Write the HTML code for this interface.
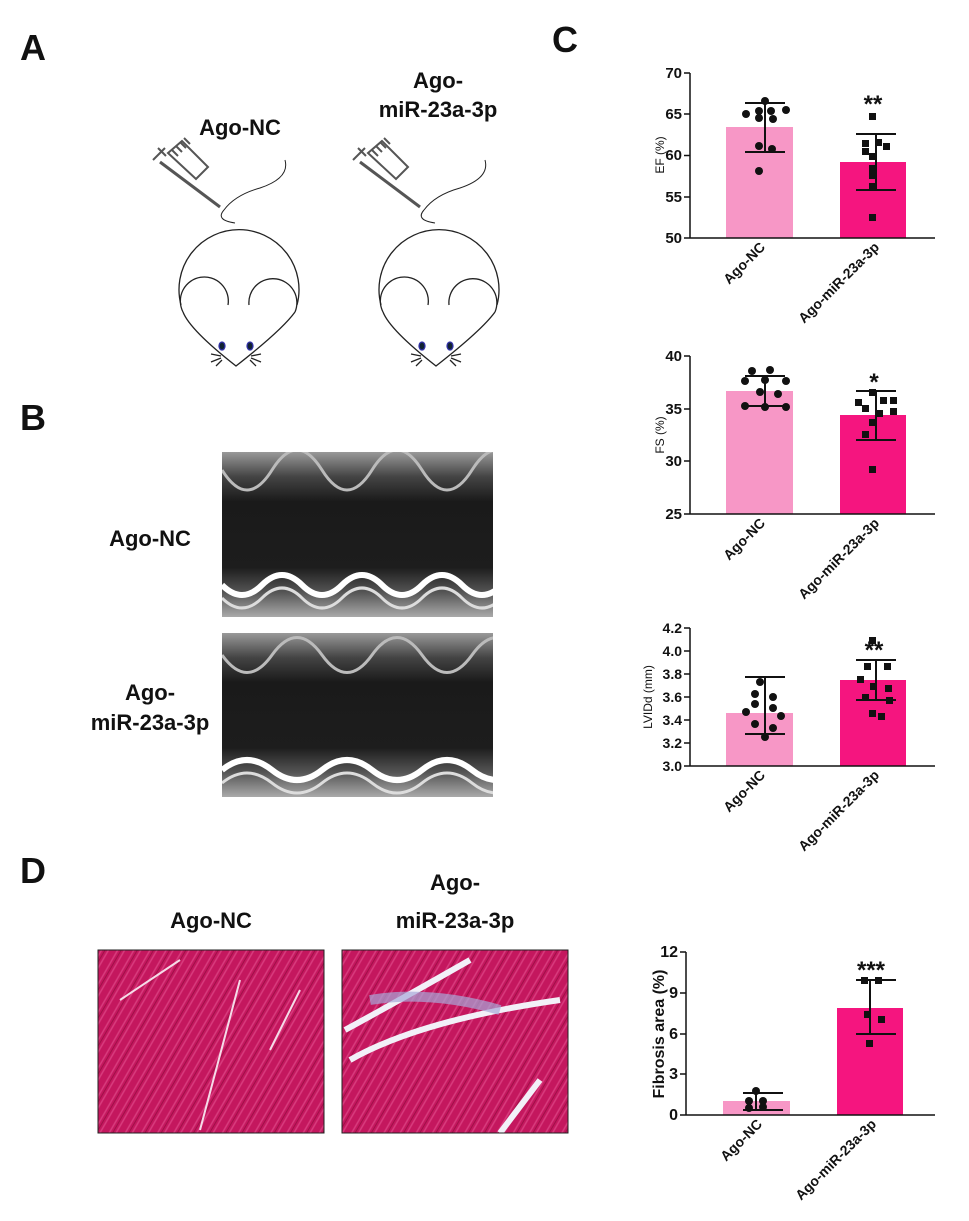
<!DOCTYPE html>
<html><head><meta charset="utf-8"><style>
html,body{margin:0;padding:0;background:#fff;}
svg{display:block;font-family:"Liberation Sans",Arial,sans-serif;}
</style></head><body>
<svg width="969" height="1221" viewBox="0 0 969 1221" xmlns="http://www.w3.org/2000/svg">
<defs>
<g id="mouse" fill="none" stroke="#222" stroke-width="1.3">
  <path d="M181,305 A60,60 0 1 1 297,305"/>
  <path d="M183,312 A24,24 0 1 1 228,305"/>
  <path d="M295,312 A24,24 0 1 0 249,305"/>
  <path d="M183,312 Q190,330 236,366 Q282,330 295,312"/>
  <ellipse cx="222" cy="346" rx="3" ry="4" fill="#123" stroke="#33a"/>
  <ellipse cx="250" cy="346" rx="3" ry="4" fill="#123" stroke="#33a"/>
  <path d="M221,356 l-10,-2 M221,358 l-10,4 M222,360 l-6,6 M251,356 l10,-2 M251,358 l10,4 M250,360 l6,6"/>
  <path d="M224,210 Q215,220 235,223 M224,210 Q235,195 260,188 Q290,178 285,160" stroke-width="1"/>
  <path d="M160,162 L220,207" stroke-width="3" stroke="#555"/>
  <path d="M168,153 l14,-12 l26,26 l-12,12 z" fill="#fff" stroke="#555" stroke-width="2"/>
  <path d="M153,160 l12,-12 M158,148 l8,8 M172,150 l6,6 M176,146 l6,6 M180,142 l6,6 M184,138 l6,6" stroke="#555" stroke-width="2"/>
</g>
<linearGradient id="echo" x1="0" y1="0" x2="0" y2="1">
  <stop offset="0" stop-color="#999"/><stop offset="0.15" stop-color="#444"/><stop offset="0.3" stop-color="#1a1a1a"/><stop offset="0.7" stop-color="#1d1d1d"/><stop offset="0.85" stop-color="#555"/><stop offset="1" stop-color="#aaa"/>
</linearGradient>
<pattern id="tis" width="20" height="14" patternUnits="userSpaceOnUse" patternTransform="rotate(-60)">
  <rect width="20" height="14" fill="#c4175e"/>
  <path d="M0,3 h20 M0,9 h20" stroke="#d93c7e" stroke-width="1.5"/>
  <path d="M0,6 h20" stroke="#a01048" stroke-width="1"/>
</pattern>
<clipPath id="c1"><rect x="222" y="452" width="271" height="165"/></clipPath>
<clipPath id="c2"><rect x="222" y="633" width="271" height="164"/></clipPath>
<clipPath id="c3"><rect x="98" y="950" width="226" height="183"/></clipPath>
<clipPath id="c4"><rect x="342" y="950" width="226" height="183"/></clipPath>
</defs>

<g font-weight="bold" font-size="36" fill="#111">
<text x="20" y="60">A</text><text x="20" y="430">B</text><text x="552" y="52">C</text><text x="20" y="883">D</text>
</g>

<g font-weight="bold" font-size="22" fill="#111" text-anchor="middle">
<text x="240" y="135">Ago-NC</text>
<text x="438" y="88">Ago-</text><text x="438" y="117">miR-23a-3p</text>
<text x="150" y="546">Ago-NC</text>
<text x="150" y="700">Ago-</text><text x="150" y="730">miR-23a-3p</text>
<text x="211" y="928">Ago-NC</text>
<text x="455" y="890">Ago-</text><text x="455" y="928">miR-23a-3p</text>
</g>

<use href="#mouse"/>
<use href="#mouse" transform="translate(200,0)"/>

<g clip-path="url(#c1)">
<rect x="222" y="452" width="271" height="165" fill="url(#echo)"/>
<path d="M222,585 q20,20 40,0 t40,0 t40,0 t40,0 t40,0 t40,0 t40,0" fill="none" stroke="#fff" stroke-width="6"/>
<path d="M222,598 q20,20 40,0 t40,0 t40,0 t40,0 t40,0 t40,0 t40,0" fill="none" stroke="#ddd" stroke-width="3"/>
<path d="M222,470 q25,40 50,0 t50,0 t50,0 t50,0 t50,0 t50,0" fill="none" stroke="#bbb" stroke-width="3"/>
</g>
<g clip-path="url(#c2)">
<rect x="222" y="633" width="271" height="164" fill="url(#echo)"/>
<path d="M222,770 q25,-20 50,0 t50,0 t50,0 t50,0 t50,0 t50,0" fill="none" stroke="#fff" stroke-width="6"/>
<path d="M222,783 q25,-20 50,0 t50,0 t50,0 t50,0 t50,0 t50,0" fill="none" stroke="#ddd" stroke-width="3"/>
<path d="M222,655 q25,35 50,0 t50,0 t50,0 t50,0 t50,0 t50,0" fill="none" stroke="#bbb" stroke-width="3"/>
</g>

<g clip-path="url(#c3)">
<rect x="98" y="950" width="226" height="183" fill="url(#tis)"/>
<path d="M200,1130 L240,980 M120,1000 L180,960 M270,1050 L300,990" stroke="#f5dbe8" stroke-width="2"/>
</g>
<rect x="98" y="950" width="226" height="183" fill="none" stroke="#222"/>
<g clip-path="url(#c4)">
<rect x="342" y="950" width="226" height="183" fill="url(#tis)"/>
<path d="M345,1030 Q400,1000 470,960 M350,1060 Q420,1020 560,1000 M500,1133 L540,1080" stroke="#f2f0f8" stroke-width="6" fill="none"/>
<path d="M370,1000 Q430,990 500,1010" stroke="#a8a8d8" stroke-width="10" fill="none" opacity="0.7"/>
</g>
<rect x="342" y="950" width="226" height="183" fill="none" stroke="#222"/>

<g font-size="15" font-weight="bold" fill="#111">
<!-- EF -->
<rect x="726" y="127" width="67" height="111" fill="#f797c6"/>
<rect x="840" y="162" width="66" height="76" fill="#f5157f"/>
<path d="M690,73 V238 H935 M684,73 h6 M684,114 h6 M684,155.5 h6 M684,197 h6 M684,238 h6" stroke="#111" stroke-width="1.5" fill="none"/>
<g text-anchor="end"><text x="682" y="78">70</text><text x="682" y="119">65</text><text x="682" y="160">60</text><text x="682" y="202">55</text><text x="682" y="243">50</text></g>
<text transform="translate(664,155) rotate(-90)" text-anchor="middle" font-size="12" font-weight="normal">EF (%)</text>
<path d="M745,103 h40 M765,103 V152 M745,152 h40 M856,134 h40 M876,134 V190 M856,190 h40" stroke="#111" stroke-width="2"/>
<g fill="#111"><circle cx="746" cy="114" r="4"/><circle cx="759" cy="111" r="4"/><circle cx="771" cy="111" r="4"/><circle cx="786" cy="110" r="4"/><circle cx="759" cy="118" r="4"/><circle cx="765" cy="101" r="4"/><circle cx="773" cy="119" r="4"/><circle cx="759" cy="146" r="4"/><circle cx="772" cy="149" r="4"/><circle cx="759" cy="171" r="4"/></g>
<g fill="#111"><rect x="869" y="113" width="7" height="7"/><rect x="862" y="140" width="7" height="7"/><rect x="875" y="139" width="7" height="7"/><rect x="883" y="143" width="7" height="7"/><rect x="862" y="148" width="7" height="7"/><rect x="869" y="153" width="7" height="7"/><rect x="869" y="165" width="7" height="7"/><rect x="869" y="172" width="7" height="7"/><rect x="869" y="183" width="7" height="7"/><rect x="869" y="214" width="7" height="7"/></g>
<text x="873" y="112" text-anchor="middle" font-size="24">**</text>
<text transform="translate(766,248) rotate(-45)" text-anchor="end" font-size="14">Ago-NC</text>
<text transform="translate(880,248) rotate(-45)" text-anchor="end" font-size="14">Ago-miR-23a-3p</text>

<!-- FS -->
<rect x="726" y="391" width="67" height="123" fill="#f797c6"/>
<rect x="840" y="415" width="66" height="99" fill="#f5157f"/>
<path d="M690,356 V514 H935 M684,356 h6 M684,409 h6 M684,461 h6 M684,514 h6" stroke="#111" stroke-width="1.5" fill="none"/>
<g text-anchor="end"><text x="682" y="361">40</text><text x="682" y="414">35</text><text x="682" y="466">30</text><text x="682" y="519">25</text></g>
<text transform="translate(664,435) rotate(-90)" text-anchor="middle" font-size="12" font-weight="normal">FS (%)</text>
<path d="M745,376 h40 M765,376 V406 M745,406 h40 M856,391 h40 M876,391 V440 M856,440 h40" stroke="#111" stroke-width="2"/>
<g fill="#111"><circle cx="752" cy="371" r="4"/><circle cx="770" cy="370" r="4"/><circle cx="745" cy="381" r="4"/><circle cx="765" cy="380" r="4"/><circle cx="786" cy="381" r="4"/><circle cx="760" cy="392" r="4"/><circle cx="778" cy="394" r="4"/><circle cx="745" cy="406" r="4"/><circle cx="786" cy="407" r="4"/><circle cx="765" cy="407" r="4"/></g>
<g fill="#111"><rect x="855" y="399" width="7" height="7"/><rect x="869" y="389" width="7" height="7"/><rect x="880" y="397" width="7" height="7"/><rect x="890" y="397" width="7" height="7"/><rect x="862" y="405" width="7" height="7"/><rect x="890" y="408" width="7" height="7"/><rect x="876" y="410" width="7" height="7"/><rect x="869" y="419" width="7" height="7"/><rect x="862" y="431" width="7" height="7"/><rect x="869" y="466" width="7" height="7"/></g>
<text x="874" y="390" text-anchor="middle" font-size="24">*</text>
<text transform="translate(766,524) rotate(-45)" text-anchor="end" font-size="14">Ago-NC</text>
<text transform="translate(880,524) rotate(-45)" text-anchor="end" font-size="14">Ago-miR-23a-3p</text>

<!-- LVIDd -->
<rect x="726" y="713" width="67" height="53" fill="#f797c6"/>
<rect x="840" y="680" width="66" height="86" fill="#f5157f"/>
<path d="M690,628 V766 H935 M684,628 h6 M684,651 h6 M684,674 h6 M684,697 h6 M684,720 h6 M684,743 h6 M684,766 h6" stroke="#111" stroke-width="1.5" fill="none"/>
<g text-anchor="end" font-size="14"><text x="682" y="633">4.2</text><text x="682" y="656">4.0</text><text x="682" y="679">3.8</text><text x="682" y="702">3.6</text><text x="682" y="725">3.4</text><text x="682" y="748">3.2</text><text x="682" y="771">3.0</text></g>
<text transform="translate(652,697) rotate(-90)" text-anchor="middle" font-size="12" font-weight="normal">LVIDd (mm)</text>
<path d="M745,677 h40 M765,677 V734 M745,734 h40 M856,660 h40 M876,660 V700 M856,700 h40" stroke="#111" stroke-width="2"/>
<g fill="#111"><circle cx="760" cy="682" r="4"/><circle cx="755" cy="694" r="4"/><circle cx="773" cy="697" r="4"/><circle cx="755" cy="704" r="4"/><circle cx="773" cy="708" r="4"/><circle cx="746" cy="712" r="4"/><circle cx="781" cy="716" r="4"/><circle cx="755" cy="724" r="4"/><circle cx="773" cy="728" r="4"/><circle cx="765" cy="737" r="4"/></g>
<g fill="#111"><rect x="869" y="637" width="7" height="7"/><rect x="864" y="663" width="7" height="7"/><rect x="884" y="663" width="7" height="7"/><rect x="857" y="676" width="7" height="7"/><rect x="870" y="683" width="7" height="7"/><rect x="885" y="685" width="7" height="7"/><rect x="862" y="694" width="7" height="7"/><rect x="886" y="697" width="7" height="7"/><rect x="869" y="710" width="7" height="7"/><rect x="878" y="713" width="7" height="7"/></g>
<text x="874" y="658" text-anchor="middle" font-size="24">**</text>
<text transform="translate(766,776) rotate(-45)" text-anchor="end" font-size="14">Ago-NC</text>
<text transform="translate(880,776) rotate(-45)" text-anchor="end" font-size="14">Ago-miR-23a-3p</text>

<!-- Fibrosis -->
<rect x="723" y="1101" width="67" height="14" fill="#f797c6"/>
<rect x="837" y="1008" width="66" height="107" fill="#f5157f"/>
<path d="M686,952 V1115 H935 M680,952 h6 M680,993 h6 M680,1034 h6 M680,1074 h6 M680,1115 h6" stroke="#111" stroke-width="1.5" fill="none"/>
<g text-anchor="end" font-size="16"><text x="678" y="957">12</text><text x="678" y="998">9</text><text x="678" y="1039">6</text><text x="678" y="1079">3</text><text x="678" y="1120">0</text></g>
<text transform="translate(664,1034) rotate(-90)" text-anchor="middle" font-size="16">Fibrosis area (%)</text>
<path d="M743,1093 h40 M756,1093 V1110 M743,1110 h40 M856,980 h40 M870,980 V1034 M856,1034 h40" stroke="#111" stroke-width="2"/>
<g fill="#111"><circle cx="756" cy="1091" r="4"/><circle cx="749" cy="1101" r="4"/><circle cx="763" cy="1101" r="4"/><circle cx="749" cy="1108" r="4"/><circle cx="763" cy="1107" r="4"/></g>
<g fill="#111"><rect x="861" y="977" width="7" height="7"/><rect x="875" y="977" width="7" height="7"/><rect x="864" y="1011" width="7" height="7"/><rect x="878" y="1016" width="7" height="7"/><rect x="866" y="1040" width="7" height="7"/></g>
<text x="871" y="978" text-anchor="middle" font-size="24">***</text>
<text transform="translate(763,1125) rotate(-45)" text-anchor="end" font-size="14">Ago-NC</text>
<text transform="translate(877,1125) rotate(-45)" text-anchor="end" font-size="14">Ago-miR-23a-3p</text>
</g>
</svg>
</body></html>
